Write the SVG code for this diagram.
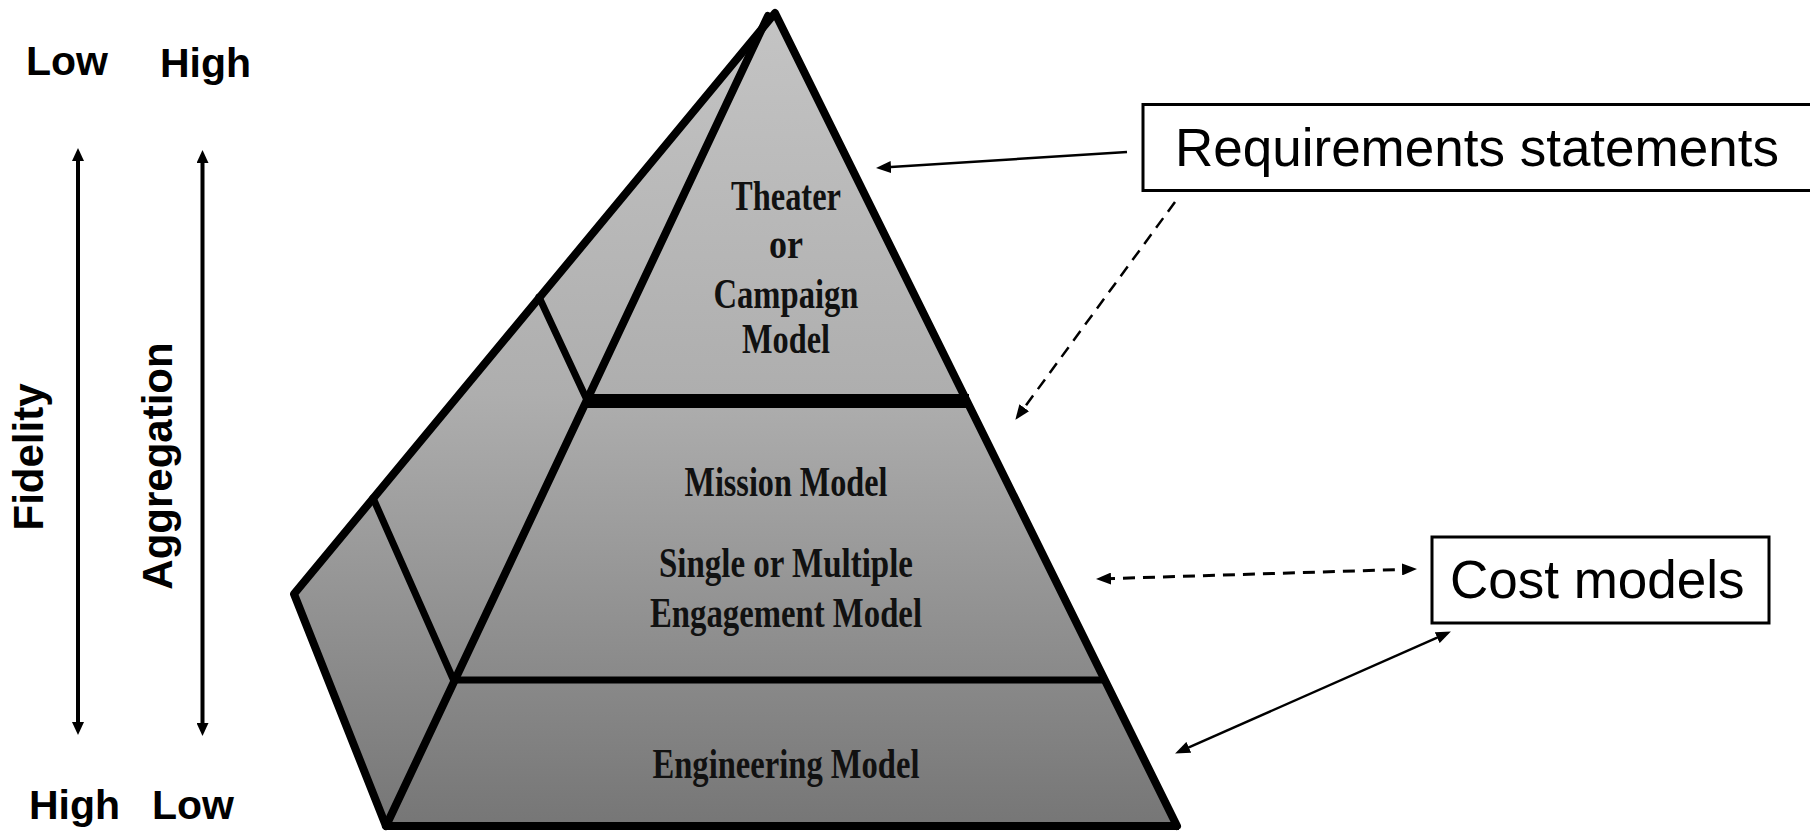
<svg xmlns="http://www.w3.org/2000/svg" width="1810" height="833" viewBox="0 0 1810 833">
<style>
.lbl{font-family:"Liberation Sans",Arial,sans-serif;font-weight:bold;font-size:41px;fill:#000}
.box{fill:#fff;stroke:#000;stroke-width:3}
.boxt{font-family:"Liberation Sans",Arial,sans-serif;font-size:53px;fill:#000}
.pt{font-family:"Liberation Serif","Times New Roman",serif;font-weight:bold;font-size:43px;fill:#111;text-anchor:middle}
.edge{fill:none;stroke:#000;stroke-width:8;stroke-linecap:round;stroke-linejoin:round}
.con{fill:none;stroke:#000;stroke-width:2.5}
.dash{stroke-dasharray:12 8}
</style>
<defs>
<linearGradient id="g" gradientUnits="userSpaceOnUse" x1="0" y1="12" x2="0" y2="826">
<stop offset="0" stop-color="#c4c4c4"/>
<stop offset="0.47" stop-color="#aeaeae"/>
<stop offset="1" stop-color="#767676"/>
</linearGradient>
<marker id="ah" markerUnits="userSpaceOnUse" markerWidth="15" markerHeight="12" refX="8" refY="6" orient="auto-start-reverse" viewBox="0 0 15 12">
<path d="M0,0 L15,6 L0,12 Z" fill="#000"/>
</marker>
<marker id="va" markerUnits="userSpaceOnUse" markerWidth="13" markerHeight="12" refX="7" refY="6" orient="auto-start-reverse" viewBox="0 0 13 12">
<path d="M0,0 L13,6 L0,12 Z" fill="#000"/>
</marker>
</defs>
<rect width="1810" height="833" fill="#fff"/>

<g id="axis-labels">
<text class="lbl" x="26" y="75">Low</text>
<text class="lbl" x="160" y="77">High</text>
<text class="lbl" x="29" y="819">High</text>
<text class="lbl" x="152" y="819">Low</text>
<text class="lbl" style="font-size:42px" text-anchor="middle" transform="translate(43,457) rotate(-90)">Fidelity</text>
<text class="lbl" style="font-size:42px" text-anchor="middle" transform="translate(172,466) rotate(-90)">Aggregation</text>
</g>

<g id="axis-arrows">
<line x1="78" y1="154" x2="78" y2="729" stroke="#000" stroke-width="4" marker-start="url(#va)" marker-end="url(#va)"/>
<line x1="202.5" y1="156" x2="202.5" y2="730" stroke="#000" stroke-width="4" marker-start="url(#va)" marker-end="url(#va)"/>
</g>

<g id="pyramid">
<polygon points="775,13 294,594 386,826 1177,826" fill="url(#g)"/>
<polyline class="edge" points="386,826 294,594 775,13 1177,826"/>
<line class="edge" x1="768" y1="16" x2="386" y2="826"/>
<line class="edge" style="stroke-width:7" x1="539" y1="297" x2="587" y2="400"/>
<line class="edge" style="stroke-width:7" x1="373" y1="498" x2="454" y2="681"/>
<line x1="587" y1="401" x2="969" y2="401" stroke="#000" stroke-width="14"/>
<line x1="455" y1="680" x2="1105" y2="680" stroke="#000" stroke-width="7"/>
<line x1="384" y1="826" x2="1179" y2="826" stroke="#000" stroke-width="8"/>
</g>

<g id="theater-model">
<text class="pt" x="786" y="210" textLength="110" lengthAdjust="spacingAndGlyphs">Theater</text>
<text class="pt" x="786" y="258" textLength="34" lengthAdjust="spacingAndGlyphs">or</text>
<text class="pt" x="786" y="308" textLength="145" lengthAdjust="spacingAndGlyphs">Campaign</text>
<text class="pt" x="786" y="353" textLength="88" lengthAdjust="spacingAndGlyphs">Model</text>
</g>

<g id="mission-model">
<text class="pt" x="786" y="496" textLength="203" lengthAdjust="spacingAndGlyphs">Mission Model</text>
<text class="pt" x="786" y="577" textLength="254" lengthAdjust="spacingAndGlyphs">Single or Multiple</text>
<text class="pt" x="786" y="627" textLength="272" lengthAdjust="spacingAndGlyphs">Engagement Model</text>
</g>

<g id="engineering-model">
<text class="pt" x="786" y="778" textLength="267" lengthAdjust="spacingAndGlyphs">Engineering Model</text>
</g>

<g id="requirements-statements">
<rect class="box" x="1143" y="104.5" width="675" height="86"/>
<text class="boxt" x="1175" y="166">Requirements statements</text>
</g>

<g id="cost-models">
<rect class="box" x="1432" y="537" width="337" height="86"/>
<text class="boxt" x="1450" y="598">Cost models</text>
</g>

<g id="connectors">
<line class="con" x1="1127" y1="152" x2="883" y2="167.6" marker-end="url(#ah)"/>
<line class="con dash" x1="1175" y1="202" x2="1019.5" y2="414.2" marker-end="url(#ah)"/>
<line class="con dash" style="stroke-width:3" x1="1103" y1="578.8" x2="1410" y2="569.2" marker-start="url(#ah)" marker-end="url(#ah)"/>
<line class="con" x1="1181.5" y1="750.6" x2="1444.5" y2="634.4" marker-start="url(#ah)" marker-end="url(#ah)"/>
</g>
</svg>
